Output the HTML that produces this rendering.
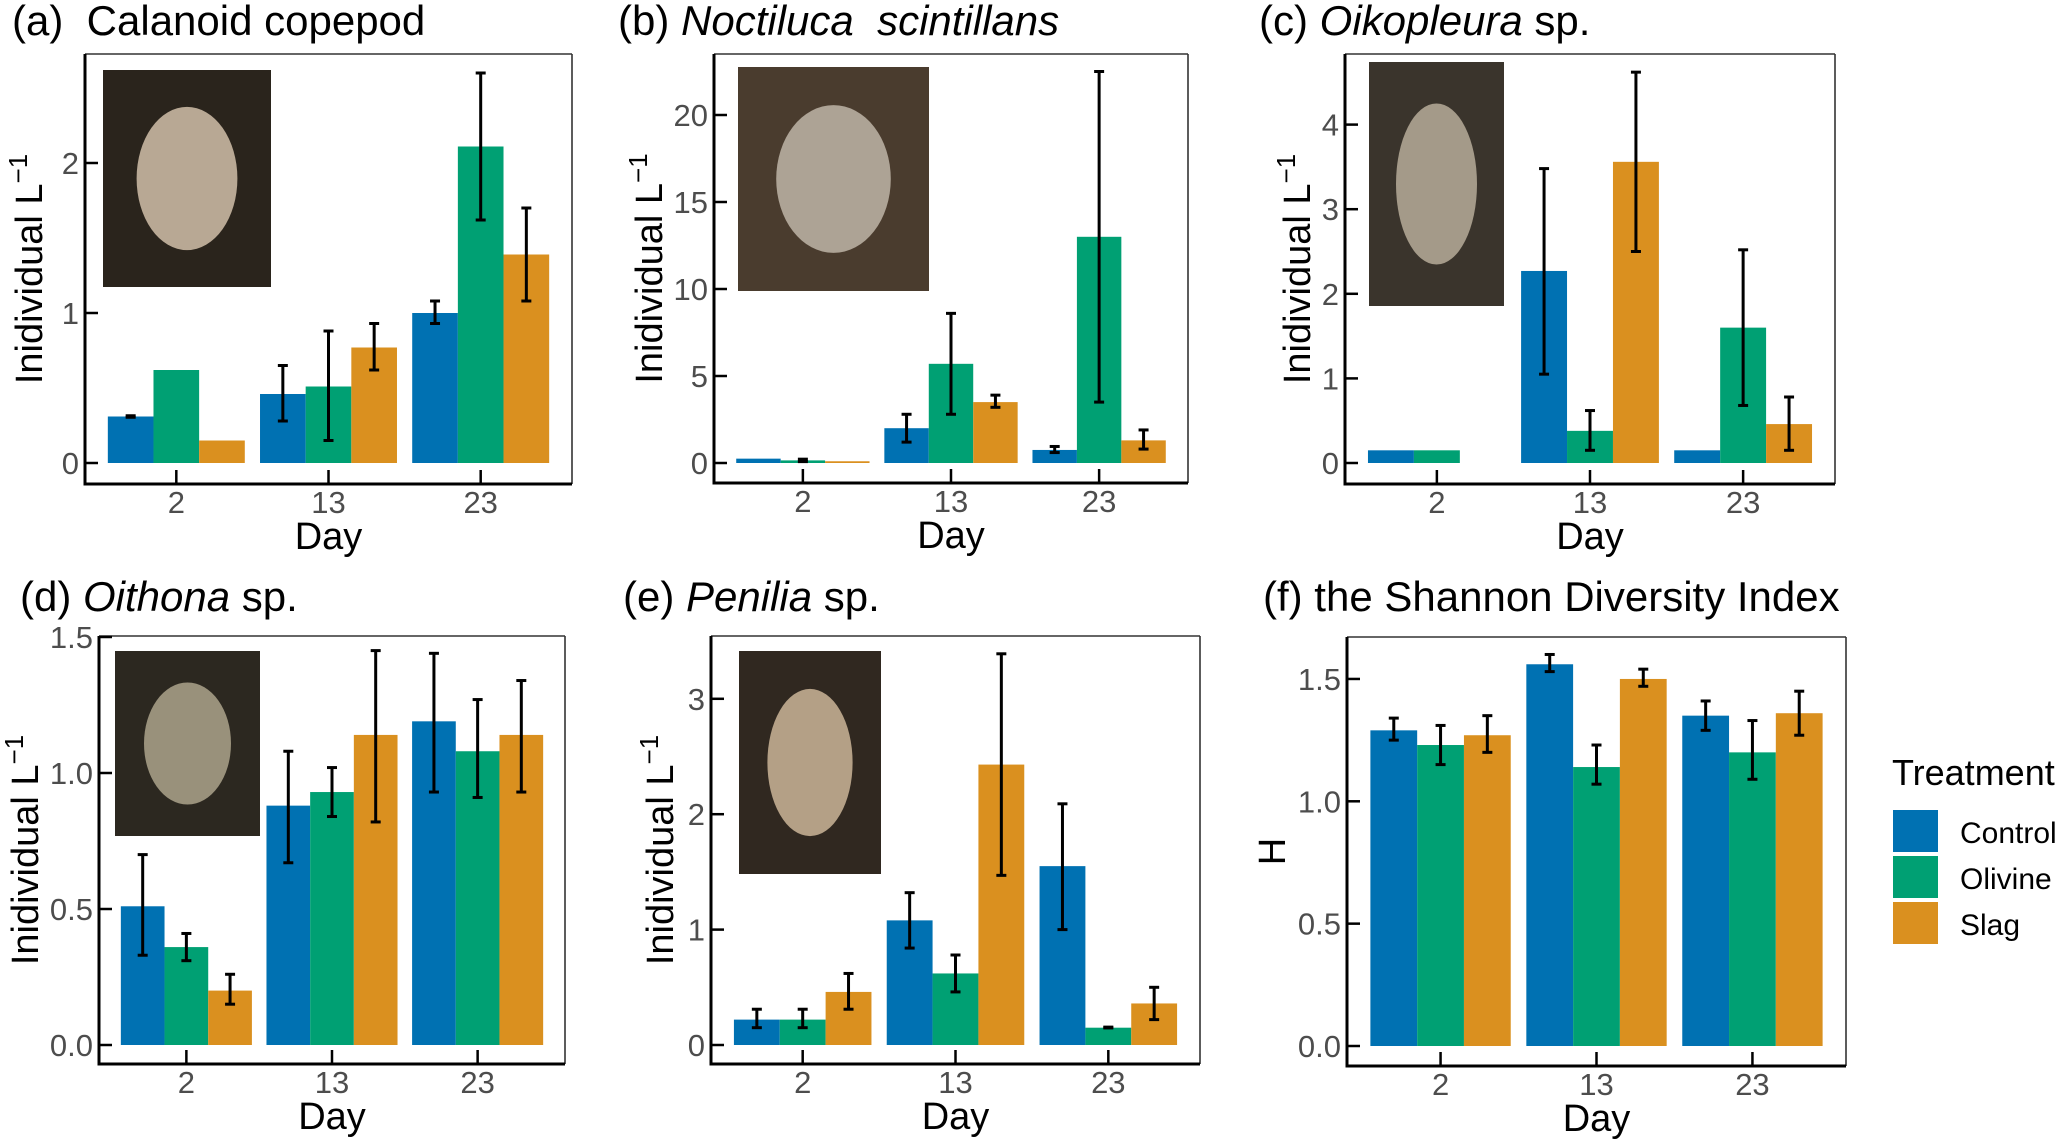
<!DOCTYPE html>
<html><head><meta charset="utf-8">
<style>
html,body{margin:0;padding:0;background:#fff;}
svg{display:block;}
text{font-family:"Liberation Sans",sans-serif;}
.tick{font-family:"Liberation Sans Narrow","Liberation Sans",sans-serif;font-size:31px;fill:#4d4d4d;}
.axt{font-family:"Liberation Sans Narrow","Liberation Sans",sans-serif;font-size:38px;fill:#000;}
.ttl{font-size:42px;fill:#000;}
</style></head>
<body>
<svg id="fig" width="2067" height="1140" viewBox="0 0 2067 1140" xmlns="http://www.w3.org/2000/svg"></svg>
<script>
// ---- data ----
const days = ["2","13","23"];
const treatments = ["Control","Olivine","Slag"];
const colors = ["#0071b2","#00a073","#da901f"];

const aControl = [0.31, 0.46, 1.00];
const aOlivine = [0.62, 0.51, 2.11];
const aSlag    = [0.15, 0.77, 1.39];
const aControlErr = [[0.305,0.315],[0.28,0.65],[0.93,1.08]];
const aOlivineErr = [null,[0.15,0.88],[1.62,2.60]];
const aSlagErr    = [null,[0.62,0.93],[1.08,1.70]];
const aTicks = [0,1,2];

const bControl = [0.25, 2.0, 0.75];
const bOlivine = [0.15, 5.7, 13.0];
const bSlag    = [0.10, 3.5, 1.3];
const bControlErr = [null,[1.2,2.8],[0.6,0.95]];
const bOlivineErr = [[0.08,0.22],[2.8,8.6],[3.5,22.5]];
const bSlagErr    = [null,[3.2,3.9],[0.8,1.9]];
const bTicks = [0,5,10,15,20];

const cControl = [0.15, 2.27, 0.15];
const cOlivine = [0.15, 0.38, 1.60];
const cSlag    = [0, 3.56, 0.46];
const cControlErr = [null,[1.05,3.48],null];
const cOlivineErr = [null,[0.15,0.62],[0.68,2.52]];
const cSlagErr    = [null,[2.50,4.62],[0.15,0.78]];
const cTicks = [0,1,2,3,4];

const dControl = [0.51, 0.88, 1.19];
const dOlivine = [0.36, 0.93, 1.08];
const dSlag    = [0.20, 1.14, 1.14];
const dControlErr = [[0.33,0.70],[0.67,1.08],[0.93,1.44]];
const dOlivineErr = [[0.31,0.41],[0.84,1.02],[0.91,1.27]];
const dSlagErr    = [[0.15,0.26],[0.82,1.45],[0.93,1.34]];
const dTicks = [0,0.5,1,1.5];

const eControl = [0.22, 1.08, 1.55];
const eOlivine = [0.22, 0.62, 0.15];
const eSlag    = [0.46, 2.43, 0.36];
const eControlErr = [[0.15,0.31],[0.84,1.32],[1.00,2.09]];
const eOlivineErr = [[0.15,0.31],[0.46,0.78],[0.148,0.155]];
const eSlagErr    = [[0.31,0.62],[1.47,3.39],[0.22,0.50]];
const eTicks = [0,1,2,3];

const fControl = [1.29, 1.56, 1.35];
const fOlivine = [1.23, 1.14, 1.20];
const fSlag    = [1.27, 1.50, 1.36];
const fControlErr = [[1.25,1.34],[1.53,1.60],[1.29,1.41]];
const fOlivineErr = [[1.15,1.31],[1.07,1.23],[1.09,1.33]];
const fSlagErr    = [[1.20,1.35],[1.47,1.54],[1.27,1.45]];
const fTicks = [0,0.5,1,1.5];

// ---- drawing ----
const NS="http://www.w3.org/2000/svg";
const svg=document.getElementById('fig');
function mk(tag,attrs,parent){const e=document.createElementNS(NS,tag);for(const k in attrs)e.setAttribute(k,attrs[k]);(parent||svg).appendChild(e);return e;}

function panel(o){
  const g=mk('g',{});
  
  
  const L=o.L,R=o.R,T=o.T,B=o.B;
  const y=v=>o.y0px-(v)*o.ppu;
  const bw=(R-L)/3.2;
  const xc=i=>L+(0.6+i)*bw;
  const t=mk('text',{x:o.tx,y:o.ty,class:'ttl'},g);
  
  
  t.innerHTML=o.title;
  if(o.inset){
    const ig=mk('g',{},g);
    
    
    const [x1,y1,x2,y2]=o.inset;
    mk('rect',{x:x1,y:y1,width:x2-x1,height:y2-y1,fill:o.bg||'#2e2620'},ig);
    mk('ellipse',{cx:(x1+x2)/2,cy:(y1+y2)/2,rx:(x2-x1)*0.3,ry:(y2-y1)*0.33,fill:o.fg||'#d8c6b0',opacity:0.75},ig);
  }
  const series=o.series;
  series.forEach((s,si)=>{
    s.vals.forEach((v,i)=>{
      if(v<=0) return;
      const bx=xc(i)-bw*0.45+si*bw*0.3;
      const r=mk('rect',{x:bx,y:y(v),width:bw*0.3,height:y(0)-y(v),fill:colors[si]},g);
      
      
    });
  });
  series.forEach((s,si)=>{
    s.err.forEach((e,i)=>{
      if(!e) return;
      const cx=xc(i)-bw*0.45+si*bw*0.3+bw*0.15;
      const eg=mk('g',{stroke:'#000','stroke-width':3},g);
      
      
      mk('line',{x1:cx,x2:cx,y1:y(e[0]),y2:y(e[1])},eg);
      mk('line',{x1:cx-5,x2:cx+5,y1:y(e[0]),y2:y(e[0])},eg);
      mk('line',{x1:cx-5,x2:cx+5,y1:y(e[1]),y2:y(e[1])},eg);
    });
  });
  mk('line',{x1:L,x2:R,y1:T,y2:T,stroke:'#333','stroke-width':1.6},g);
  mk('line',{x1:R,x2:R,y1:T,y2:B,stroke:'#333','stroke-width':1.6},g);
  const ya=mk('line',{x1:L,x2:L,y1:T,y2:B+1.5,stroke:'#000','stroke-width':3},g);
  
  
  const xa=mk('line',{x1:L-1.5,x2:R,y1:B,y2:B,stroke:'#000','stroke-width':3},g);
  
  
  o.ticks.forEach(v=>{
    mk('line',{x1:L,x2:L+13,y1:y(v),y2:y(v),stroke:'#000','stroke-width':2.5},g);
    const tl=mk('text',{x:L-6,y:y(v)+11,'text-anchor':'end',class:'tick'},g);
    
    
    tl.textContent=o.fmt?v.toFixed(1):String(v);
  });
  days.forEach((d,i)=>{
    mk('line',{x1:xc(i),x2:xc(i),y1:B,y2:B-14,stroke:'#000','stroke-width':2.5},g);
    const tl=mk('text',{x:xc(i),y:B+29,'text-anchor':'middle',class:'tick'},g);
    
    
    tl.textContent=d;
  });
  const xt=mk('text',{x:(L+R)/2,y:B+65,'text-anchor':'middle',class:'axt'},g);
  
  
  xt.textContent='Day';
  const yt=mk('text',{x:0,y:0,'text-anchor':'middle',class:'axt',transform:`translate(${o.ylx},${(T+B)/2}) rotate(-90)`},g);
  
  
  yt.innerHTML=o.ylab;
}
const YL='Inidividual L<tspan dy="-15" font-size="26">\u22121</tspan>';

panel({id:'a',L:85,R:572,T:54,B:484,y0px:463,ppu:150,ticks:aTicks,tx:12,ty:35,
  title:'(a)&#160; Calanoid copepod',ylab:YL,ylx:42,inset:[103,70,271,287],bg:'#2a241c',fg:'#e8d4bc',
  series:[{vals:aControl,err:aControlErr},{vals:aOlivine,err:aOlivineErr},{vals:aSlag,err:aSlagErr}]});
panel({id:'b',L:714,R:1188,T:54,B:483,y0px:463,ppu:17.4,ticks:bTicks,tx:618,ty:35,
  title:'(b) <tspan font-style="italic">Noctiluca&#160; scintillans</tspan>',ylab:YL,ylx:662,inset:[738,67,929,291],bg:'#4a3c2e',fg:'#cfc6b8',
  series:[{vals:bControl,err:bControlErr},{vals:bOlivine,err:bOlivineErr},{vals:bSlag,err:bSlagErr}]});
panel({id:'c',L:1345,R:1835,T:54,B:484,y0px:463,ppu:84.6,ticks:cTicks,tx:1259,ty:35,
  title:'(c) <tspan font-style="italic">Oikopleura</tspan> sp.',ylab:YL,ylx:1310,inset:[1369,62,1504,306],bg:'#3a342c',fg:'#c8bca8',
  series:[{vals:cControl,err:cControlErr},{vals:cOlivine,err:cOlivineErr},{vals:cSlag,err:cSlagErr}]});
panel({id:'d',L:99,R:565,T:636,B:1064,y0px:1045,ppu:272,ticks:dTicks,fmt:true,tx:20,ty:611,
  title:'(d) <tspan font-style="italic">Oithona</tspan> sp.',ylab:YL,ylx:38,inset:[115,651,260,836],bg:'#2c2820',fg:'#bdb49a',
  series:[{vals:dControl,err:dControlErr},{vals:dOlivine,err:dOlivineErr},{vals:dSlag,err:dSlagErr}]});
panel({id:'e',L:711,R:1200,T:636,B:1064,y0px:1045,ppu:115.4,ticks:eTicks,tx:623,ty:611,
  title:'(e) <tspan font-style="italic">Penilia</tspan> sp.',ylab:YL,ylx:673,inset:[739,651,881,874],bg:'#302820',fg:'#e0c8a8',
  series:[{vals:eControl,err:eControlErr},{vals:eOlivine,err:eOlivineErr},{vals:eSlag,err:eSlagErr}]});
panel({id:'f',L:1347,R:1846,T:637,B:1066,y0px:1046,ppu:244.7,ticks:fTicks,fmt:true,tx:1263,ty:611,
  title:'(f) the Shannon Diversity Index',ylab:'H',ylx:1285,
  series:[{vals:fControl,err:fControlErr},{vals:fOlivine,err:fOlivineErr},{vals:fSlag,err:fSlagErr}]});

const lg=mk('g',{});


const lt=mk('text',{x:1892,y:785,'font-size':36},lg);


lt.textContent='Treatment';
treatments.forEach((tr,i)=>{
  const eg=mk('g',{},lg);
  
  
  mk('rect',{x:1893,y:810+i*46,width:45,height:42,fill:colors[i]},eg);
  const tx=mk('text',{x:1960,y:843+i*46,'font-size':30},eg);
  tx.textContent=tr;
});
</script>
</body></html>
